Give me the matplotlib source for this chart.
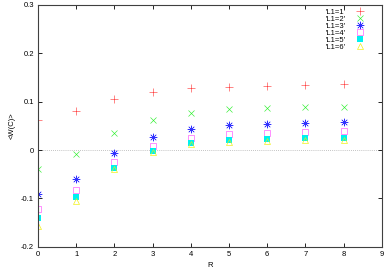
import matplotlib
matplotlib.use("Agg")
import matplotlib.pyplot as plt

# R values and <W(C)> for each L1
R = [0, 1, 2, 3, 4, 5, 6, 7, 8]
w_L1_1 = [0.063, 0.081, 0.105, 0.121, 0.129, 0.131, 0.133, 0.135, 0.136]
w_L1_2 = [-0.039, -0.009, 0.036, 0.063, 0.077, 0.084, 0.087, 0.088, 0.090]
w_L1_3 = [-0.092, -0.059, -0.006, 0.026, 0.043, 0.051, 0.054, 0.056, 0.057]
w_L1_4 = [-0.121, -0.083, -0.025, 0.009, 0.025, 0.033, 0.035, 0.037, 0.039]
w_L1_5 = [-0.140, -0.098, -0.037, -0.003, 0.014, 0.020, 0.023, 0.024, 0.025]
w_L1_6 = [-0.157, -0.106, -0.040, -0.005, 0.012, 0.017, 0.019, 0.020, 0.021]

labels = ["'L1=1'", "'L1=2'", "'L1=3'", "'L1=4'", "'L1=5'", "'L1=6'"]
xticks = [0, 1, 2, 3, 4, 5, 6, 7, 8, 9]
yticks = [-0.2, -0.1, 0, 0.1, 0.2, 0.3]
ytick_labels = ["-0.2", "-0.1", "0", "0.1", "0.2", "0.3"]

plt.rcParams['font.family'] = ['Liberation Sans', 'DejaVu Sans']

fig = plt.figure(figsize=(3.9, 2.73), dpi=100)
ax = fig.add_axes([0.0974, 0.0963, 0.8816, 0.8854])

# gnuplot-ish point styles, thin strokes
ax.plot(R, w_L1_1, linestyle='none', marker='+', ms=5.5, mew=0.45, color='#ff4040', label=labels[0])
ax.plot(R, w_L1_2, linestyle='none', marker='x', ms=4.5, mew=0.45, color='#30f030', label=labels[1])
ax.plot(R, w_L1_3, linestyle='none', marker=(8, 2, 0), ms=5.5, mew=0.4, color='#3030ff', label=labels[2])
ax.plot(R, w_L1_4, linestyle='none', marker='s', ms=4.5, mew=0.45, color='#ff50ff', mfc='none', label=labels[3])
ax.plot(R, w_L1_5, linestyle='none', marker='s', ms=4.5, mew=0.0, color='#00f0f0', label=labels[4])
ax.plot(R, w_L1_6, linestyle='none', marker='^', ms=4.5, mew=0.45, color='#f0f000', mfc='none', label=labels[5])

ax.axhline(0, color='#b0b0b0', lw=0.6, linestyle=(0, (1, 1.5)), zorder=0)

ax.set_xlim(0, 9)
ax.set_ylim(-0.2, 0.3)
ax.set_xticks(xticks)
ax.set_yticks(yticks)
ax.set_yticklabels(ytick_labels)
ax.tick_params(direction='in', top=True, right=True, length=3, width=0.6,
               labelsize=5.5, pad=3)
for s in ax.spines.values():
    s.set_linewidth(0.8)
    s.set_color('#404040')

ax.set_xlabel("R", fontsize=5.5, labelpad=3)
ax.set_ylabel("<W(C)>", fontsize=5.5, labelpad=4)

ax.legend(loc='upper right', frameon=False, markerfirst=False, fontsize=5.5,
          handlelength=1.0, handletextpad=1.5, labelspacing=-0.05,
          borderaxespad=0.0, bbox_to_anchor=(0.958, 0.998))

fig.savefig("out.png", dpi=100)
